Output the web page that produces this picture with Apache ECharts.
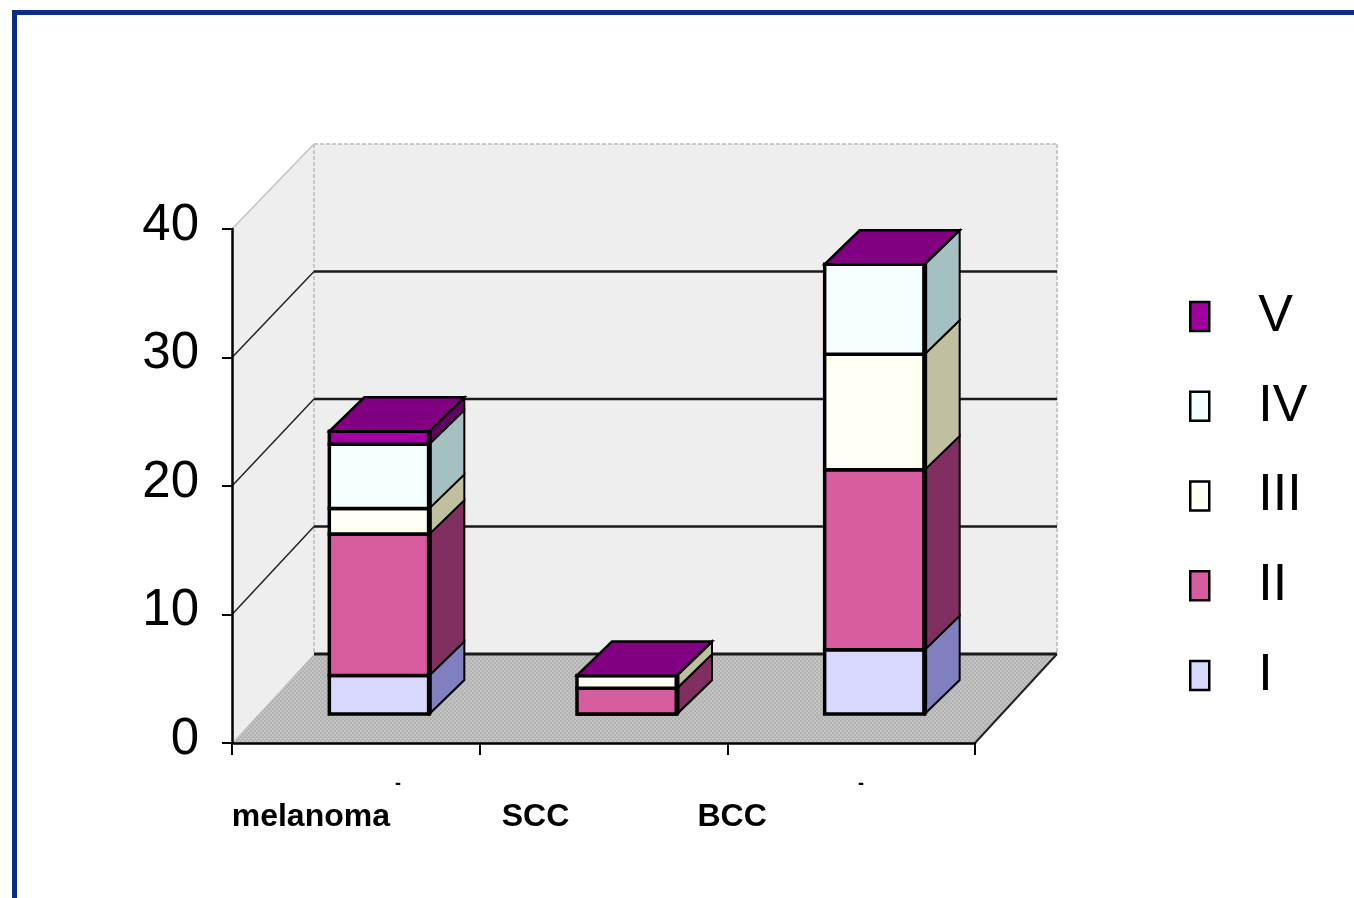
<!DOCTYPE html>
<html>
<head>
<meta charset="utf-8">
<style>
html,body{margin:0;padding:0;background:#fff;overflow:hidden}
#chart{width:1354px;height:898px;filter:blur(0.7px)}
</style>
<script src="https://cdn.jsdelivr.net/npm/echarts@6/dist/echarts.min.js"></script>
</head>
<body>
<div id="chart"></div>
<script>
const categories = ['melanoma', 'SCC', 'BCC'];
const stageNames = ['I', 'II', 'III', 'IV', 'V'];
const stageI = [3, 0, 5];
const stageII = [11, 2, 14];
const stageIII = [2, 1, 9];
const stageIV = [5, 0, 7];
const stageV = [1, 0, 0];
const yTicks = [0, 10, 20, 30, 40];

const frontColors = ['#d8d8ff', '#d85ca0', '#fffff4', '#f4ffff', '#a000a0'];
const sideColors = ['#8080c0', '#802f60', '#c0c0a0', '#a4c0c0', '#600060'];
const topColor = '#800080';
const labelShift = [-45, -68, -119];

const depthX = 82, barDepthX = 35, barDepthY = 34, barLift = 29, barOffset = 23.5, barWidth = 100;
function backDy(v) { return 89 - v * 0.1; }

const stages = [stageI, stageII, stageIII, stageIV, stageV];

function poly(points, fill, stroke, lineWidth, extra) {
  return Object.assign({
    type: 'polygon', shape: { points: points },
    style: { fill: fill, stroke: stroke, lineWidth: lineWidth, lineJoin: 'miter' }
  }, extra || {});
}
function seg(x1, y1, x2, y2, stroke, lineWidth, dash) {
  return {
    type: 'line', shape: { x1: x1, y1: y1, x2: x2, y2: y2 },
    style: { stroke: stroke, lineWidth: lineWidth, lineDash: dash || null, fill: null }
  };
}

const patternCanvas = document.createElement('canvas');
patternCanvas.width = patternCanvas.height = 4;
(function () {
  const c = patternCanvas.getContext('2d');
  c.fillStyle = '#c2c2c2'; c.fillRect(0, 0, 4, 4);
  c.fillStyle = '#b3b3b3'; c.fillRect(0, 0, 2, 2); c.fillRect(2, 2, 2, 2);
})();

function renderWalls(params, api) {
  const cs = params.coordSys;
  const left = cs.x, right = cs.x + cs.width;
  const y0 = api.coord([0, 0])[1], yTop = api.coord([0, yTicks[yTicks.length - 1]])[1];
  const vTop = yTicks[yTicks.length - 1];
  const children = [];
  const bl = left + depthX, br = right + depthX;
  const by0 = y0 - backDy(0), byT = yTop - backDy(vTop);
  children.push(poly([[bl, byT], [br, byT], [br, by0], [bl, by0]], '#eeeeee', null, 0));
  children.push(poly([[left, yTop], [bl, byT], [bl, by0], [left, y0]], '#eeeeee', null, 0));
  children.push(poly([[left, y0], [right, y0], [br, by0], [bl, by0]], { image: patternCanvas, repeat: 'repeat' }, null, 0));
  children.push(seg(bl, byT, br, byT, '#bbbbbb', 1.5, [4, 2]));
  children.push(seg(bl, byT, bl, by0, '#bbbbbb', 1.5, [4, 2]));
  children.push(seg(br, byT, br, by0, '#bbbbbb', 1.5, [4, 2]));
  children.push(seg(left, yTop, bl, byT, '#c4c4c4', 1.5));
  yTicks.forEach(function (v) {
    if (v === vTop) return;
    const y = api.coord([0, v])[1];
    const by = y - backDy(v);
    children.push(seg(bl, by, br, by, '#1a1a1a', v === 0 ? 3 : 2.5));
    if (v > 0) children.push(seg(left, y, bl, by, '#222222', 1.5));
  });
  children.push(seg(right, y0, br, by0, '#222222', 2));
  return { type: 'group', children: children };
}

function renderBar(stageIndex) {
  return function (params, api) {
    const idx = api.value(0);
    const c0 = api.coord([idx, api.value(1)]);
    const c1 = api.coord([idx, api.value(2)]);
    const xl = c0[0] + barOffset - barWidth / 2, xr = xl + barWidth;
    const yb = c0[1] - barLift, yt = c1[1] - barLift;
    const dx = barDepthX, dy = barDepthY;
    const children = [];
    children.push(poly([[xr, yb], [xr + dx, yb - dy], [xr + dx, yt - dy], [xr, yt]], sideColors[stageIndex], '#000', 2));
    children.push(poly([[xl, yb], [xr, yb], [xr, yt], [xl, yt]], frontColors[stageIndex], '#000', 3.5));
    children.push(seg(xr, yb, xr, yt, '#000', 5));
    if (stageIndex === stages.length - 1) {
      children.push(poly([[xl, yt], [xr, yt], [xr + dx, yt - dy], [xl + dx, yt - dy]], topColor, '#000', 2.5));
    }
    return { type: 'group', children: children };
  };
}

function stageData(stageIndex) {
  return categories.map(function (_, i) {
    let start = 0;
    for (let s = 0; s < stageIndex; s++) start += stages[s][i];
    return [i, start, start + stages[stageIndex][i]];
  });
}

const rich = {};
categories.forEach(function (c, i) {
  rich['c' + i] = {
    fontFamily: 'Liberation Sans', fontWeight: 'bold', fontSize: 32, color: '#000',
    padding: [0, -2 * labelShift[i], 0, 0]
  };
});

const series = [{
  type: 'custom', name: 'walls', coordinateSystem: 'cartesian2d', z: 1, silent: true, clip: false,
  data: [[0, 0]], encode: { x: 0, y: 1 }, renderItem: renderWalls
}].concat(stageNames.map(function (name, s) {
  return {
    type: 'custom', name: name, coordinateSystem: 'cartesian2d', z: 2 + s, silent: true, clip: false,
    data: stageData(s), encode: { x: 0, y: [1, 2] },
    itemStyle: { color: frontColors[s], borderColor: '#000', borderWidth: 3 },
    renderItem: renderBar(s)
  };
}));

const chart = echarts.init(document.getElementById('chart'), null, { renderer: 'canvas' });
chart.setOption({
  animation: false,
  backgroundColor: '#ffffff',
  grid: { left: 232, top: 229, width: 743, height: 514, containLabel: false },
  xAxis: {
    type: 'category', data: categories, z: 20,
    axisLine: { show: true, lineStyle: { color: '#000', width: 2.5 } },
    axisTick: { show: true, length: 12, lineStyle: { color: '#000', width: 2 }, alignWithLabel: false },
    axisLabel: {
      interval: 0, margin: 58, rich: rich,
      formatter: function (v, i) { return '{c' + i + '|' + v + '}'; }
    },
    splitLine: { show: false }
  },
  yAxis: {
    type: 'value', min: 0, max: 40, interval: 10, z: 20,
    axisLine: { show: true, lineStyle: { color: '#000', width: 2.5 } },
    axisTick: { show: true, length: 10, lineStyle: { color: '#000', width: 2 } },
    axisLabel: {
      fontFamily: 'Liberation Sans', fontSize: 51, color: '#000', margin: 33,
      verticalAlign: 'bottom', lineHeight: 7
    },
    splitLine: { show: false }
  },
  legend: {
    show: true, orient: 'vertical', left: 1189, top: 290.5, padding: 0,
    data: stageNames.slice().reverse(),
    icon: 'rect', itemWidth: 19, itemHeight: 29, itemGap: 37.75, selectedMode: false,
    itemStyle: { borderColor: '#000', borderWidth: 2.5 },
    textStyle: {
      fontFamily: 'Liberation Sans', fontSize: 52, color: '#000',
      lineHeight: 31, height: 31, padding: [0, 0, 0, 44]
    }
  },
  graphic: [
    { type: 'rect', silent: true, z: 50, shape: { x: 14.5, y: 12.5, width: 1500, height: 1000 },
      style: { fill: null, stroke: '#0a2f80', lineWidth: 5 } },
    { type: 'text', silent: true, z: 50, x: 398, y: 784, style: { text: '-', fill: '#000', font: 'bold 18px "Liberation Sans"', align: 'center', verticalAlign: 'middle' } },
    { type: 'text', silent: true, z: 50, x: 861, y: 784, style: { text: '-', fill: '#000', font: 'bold 18px "Liberation Sans"', align: 'center', verticalAlign: 'middle' } }
  ],
  series: series
});
</script>
</body>
</html>
